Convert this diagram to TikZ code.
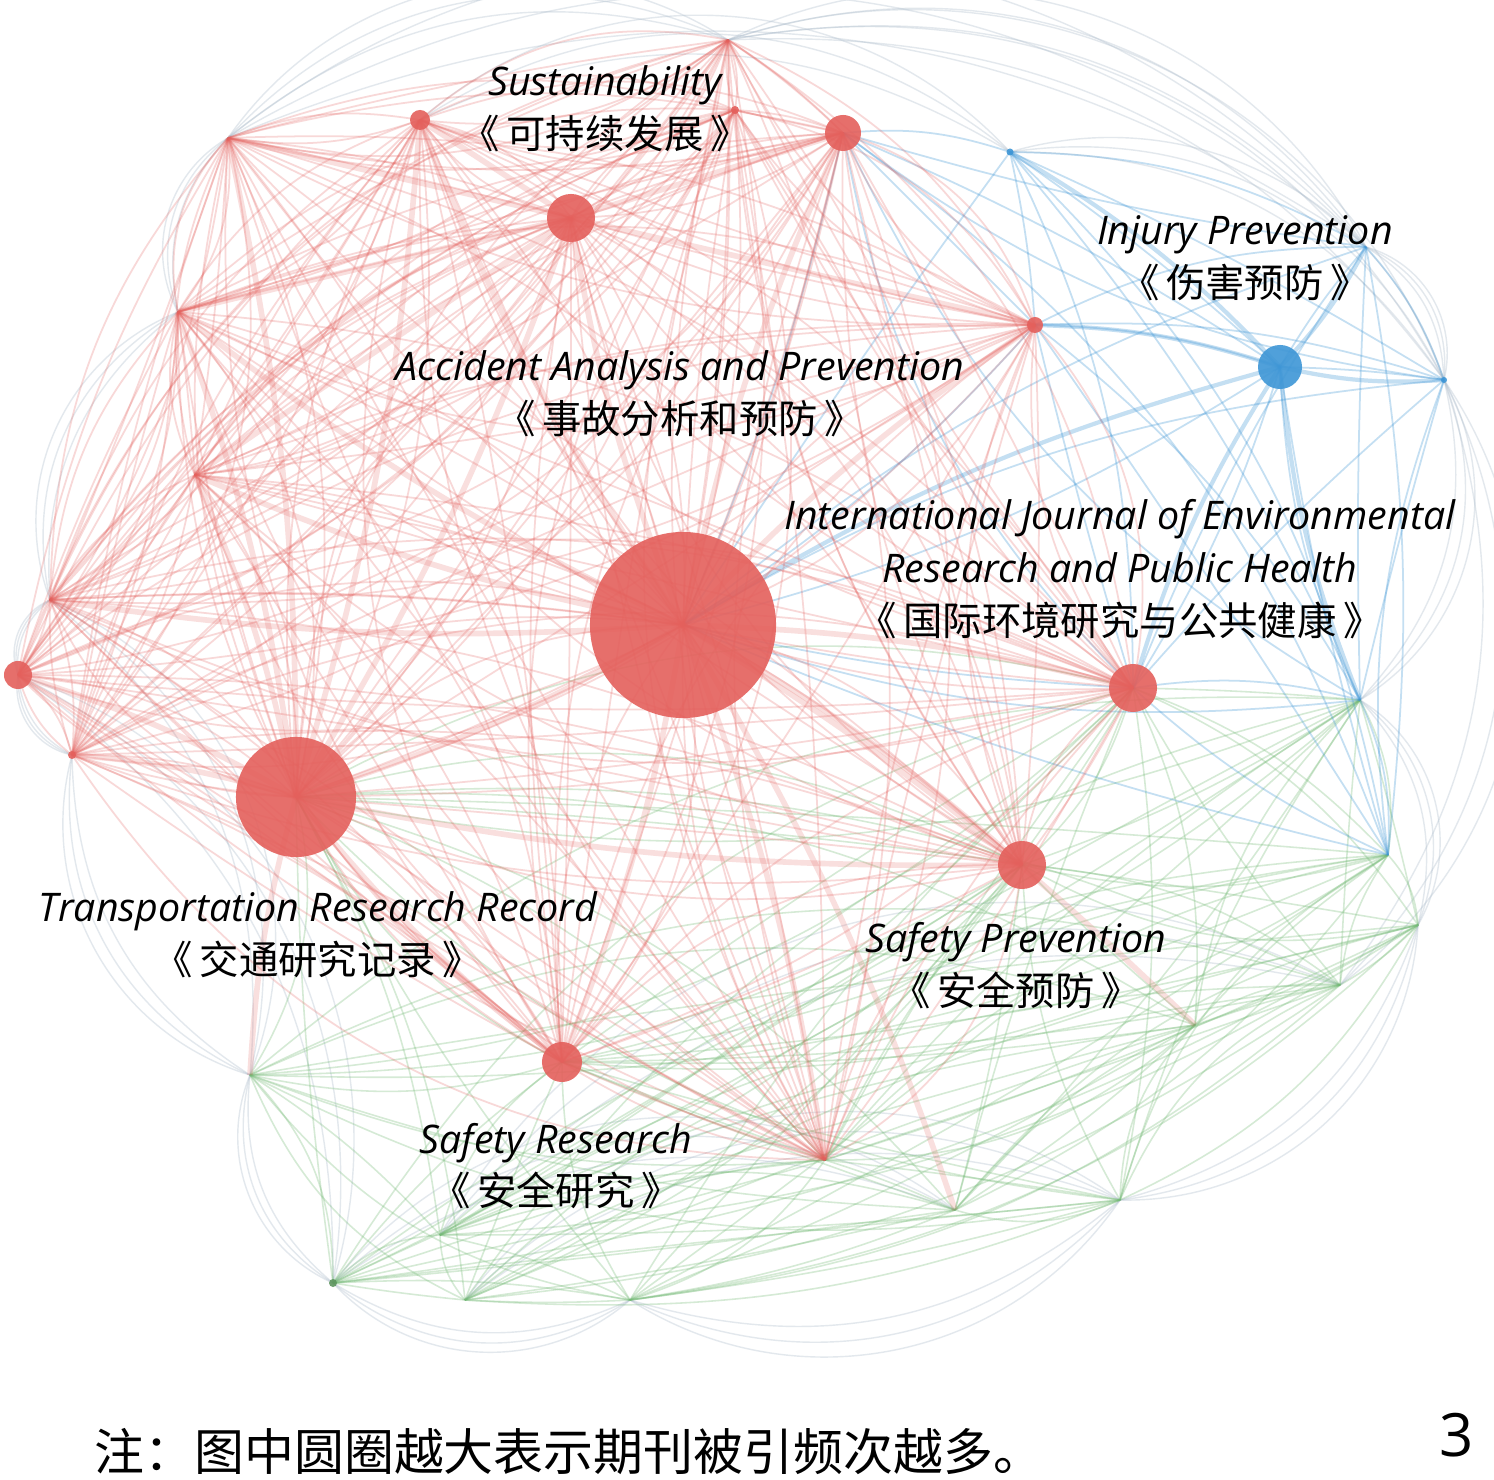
\documentclass[tikz,border=0pt]{standalone}
\usepackage{fontspec}
\setmainfont{Open Sans}
\newfontfamily\cjk{Noto Sans CJK SC}
\definecolor{netred}{RGB}{228,96,92}
\definecolor{netblue}{RGB}{62,150,214}
\definecolor{netgreen}{RGB}{116,186,118}
\definecolor{netgrey}{RGB}{175,190,205}
\newcommand{\bk}[1]{《\,#1\,》}
\tikzset{
  redge/.style={draw=netred, line width=0.5pt, opacity=0.24},
  rspoke/.style={draw=netred, line width=1.6pt, opacity=0.2},
  gedge/.style={draw=netgreen, line width=0.45pt, opacity=0.3},
  bedge/.style={draw=netblue, line width=0.5pt, opacity=0.3},
  oedge/.style={draw=netgrey, line width=0.4pt, opacity=0.35},
  jnode/.style={circle, inner sep=0pt, fill=#1, opacity=0.9},
  jlabel/.style={align=center, font=\fontsize{11.2}{15}\selectfont, text=black},
}
\begin{document}
\begin{tikzpicture}[x=0.01cm, y=-0.01cm]
    \useasboundingbox (0,0) rectangle (1494,1480);
    \fill[white] (0,0) rectangle (1494,1480);
    \pgfmathsetseed{17}
    % journals
    \coordinate (ij) at (683,625);
    \coordinate (trr) at (296,797);
    \coordinate (s1) at (420,120);
    \coordinate (s2) at (571,218);
    \coordinate (s3) at (843,133);
    \coordinate (s4) at (735,110);
    \coordinate (s5) at (1035,325);
    \coordinate (s6) at (1133,688);
    \coordinate (sp) at (1022,865);
    \coordinate (sr) at (562,1062);
    \coordinate (l1) at (18,675);
    \coordinate (l2) at (72,755);
    \coordinate (h1) at (178,312);
    \coordinate (h2) at (228,138);
    \coordinate (h3) at (195,475);
    \coordinate (h4) at (50,600);
    \coordinate (h5) at (728,40);
    \coordinate (h6) at (825,1160);
    \coordinate (g1) at (1388,855);
    \coordinate (g2) at (1418,925);
    \coordinate (g3) at (1340,985);
    \coordinate (g4) at (1195,1025);
    \coordinate (g5) at (1120,1200);
    \coordinate (g6) at (955,1210);
    \coordinate (g7) at (630,1300);
    \coordinate (g8) at (465,1300);
    \coordinate (g9) at (440,1235);
    \coordinate (g10) at (250,1075);
    \coordinate (g11) at (333,1283);
    \coordinate (g12) at (1360,700);
    \coordinate (b1) at (1280,367);
    \coordinate (b2) at (1010,152);
    \coordinate (b3) at (1444,380);
    \coordinate (b4) at (1366,247);
    % outer arcs
    \foreach \a/\b in {h2/h5, h5/b4, b4/b3, b3/g12, g12/g2, g2/g5, g5/g7, g7/g11, g11/g10, g10/l2, l2/l1, l1/h4, h4/h1, h1/h2, s1/b2, b2/b3, h2/b4, l1/g11, g8/g5, g9/g3, h4/g10, b3/g3, h5/b3, g11/g6}
        \foreach \k in {1,...,3}
            \draw[oedge] (\a) to[bend left=20+8*\k] (\b);
    % green cluster
    \foreach \a [count=\i] in {g1,g2,g3,g4,g5,g6,g7,g8,g9,g10,g11,g12,sr,sp,s6,trr,h6}
        \foreach \b [count=\j] in {g1,g2,g3,g4,g5,g6,g7,g8,g9,g10,g11,g12,sr,sp,s6,trr,h6}
        {
            \ifnum\j>\i
                \pgfmathsetmacro\bb{rand*22}
                \draw[gedge] (\a) to[bend left=\bb] (\b);
            \fi
        }
    % blue cluster
    \foreach \a [count=\i] in {b1,b2,b3,b4,s5,s6,ij,g12,g1,s3}
        \foreach \b [count=\j] in {b1,b2,b3,b4,s5,s6,ij,g12,g1,s3}
        {
            \ifnum\j>\i
                \pgfmathsetmacro\bb{rand*18}
                \draw[bedge] (\a) to[bend left=\bb] (\b);
            \fi
        }
    \foreach \b in {s5,s6,ij,b2,b4,b3,g12}
        \draw[bedge, line width=1.2pt] (b1) to[bend right=8] (\b);
    % red cluster
    \foreach \a [count=\i] in {ij,trr,s1,s2,s3,s4,s5,s6,sp,sr,l1,l2,h1,h2,h3,h4,h5,h6}
        \foreach \b [count=\j] in {ij,trr,s1,s2,s3,s4,s5,s6,sp,sr,l1,l2,h1,h2,h3,h4,h5,h6}
        {
            \ifnum\j>\i
                \pgfmathsetmacro\bb{rand*28}
                \draw[redge] (\a) to[bend left=\bb] (\b);
                \draw[redge] (\a) to[bend right=\bb/2+8] (\b);
            \fi
        }
    \foreach \b in {trr,s1,s2,s3,s5,s6,sp,sr,h1,h3,h4,h6,g4,g6}
        \draw[rspoke] (ij) to[bend left=6] (\b);
    \foreach \b in {s1,s2,h1,h2,h3,l1,l2,sr,sp,g10}
        \draw[rspoke] (trr) to[bend right=6] (\b);
    \foreach \b in {s1,s3,h1,h2,h3,s5}
        \draw[rspoke] (s2) -- (\b);
    % circles
    \node[jnode=netred, minimum size=1.86cm] (ijn) at (ij) {};
    \node[jnode=netred, minimum size=1.2cm] (trrn) at (trr) {};
    \node[jnode=netred, minimum size=0.48cm] (s2n) at (s2) {};
    \node[jnode=netred, minimum size=0.36cm] (s3n) at (s3) {};
    \node[jnode=netred, minimum size=0.2cm] (s1n) at (s1) {};
    \node[jnode=netred, minimum size=0.08cm] (s4n) at (s4) {};
    \node[jnode=netred, minimum size=0.16cm] (s5n) at (s5) {};
    \node[jnode=netred, minimum size=0.48cm] (s6n) at (s6) {};
    \node[jnode=netred, minimum size=0.48cm] (spn) at (sp) {};
    \node[jnode=netred, minimum size=0.4cm] (srn) at (sr) {};
    \node[jnode=netred, minimum size=0.28cm] (l1n) at (l1) {};
    \node[jnode=netred, minimum size=0.08cm] (l2n) at (l2) {};
    \node[jnode=netblue, minimum size=0.44cm] (b1n) at (b1) {};
    \node[jnode=netblue, minimum size=0.07cm] (b2n) at (b2) {};
    \node[jnode=netblue, minimum size=0.06cm] (b3n) at (b3) {};
    \node[jnode=netgreen!80!black, minimum size=0.08cm] (g11n) at (g11) {};
    % labels
    \node[jlabel] (suslab) at (605,109) {\itshape Sustainability\\\cjk \bk{可持续发展}};
    \node[jlabel] (iplab) at (1245,258) {\itshape Injury Prevention\\\cjk \bk{伤害预防}};
    \node[jlabel] (aaplab) at (680,394) {\itshape Accident Analysis and Prevention\\\cjk \bk{事故分析和预防}};
    \node[jlabel] (ijlab) at (1120,569) {\itshape International Journal of Environmental\\\itshape Research and Public Health\\\cjk \bk{国际环境研究与公共健康}};
    \node[jlabel] (trrlab) at (318,935) {\itshape Transportation Research Record\\\cjk \bk{交通研究记录}};
    \node[jlabel] (splab) at (1016,966) {\itshape Safety Prevention\\\cjk \bk{安全预防}};
    \node[jlabel] (srlab) at (556,1166) {\itshape Safety Research\\\cjk \bk{安全研究}};
    \node[anchor=west, font=\cjk\fontsize{14.2}{16}\selectfont] (note) at (82,1452) {注：图中圆圈越大表示期刊被引频次越多。};
    \node[font=\fontsize{17}{20}\selectfont] (num) at (1457,1435) {3};
\end{tikzpicture}
\end{document}
